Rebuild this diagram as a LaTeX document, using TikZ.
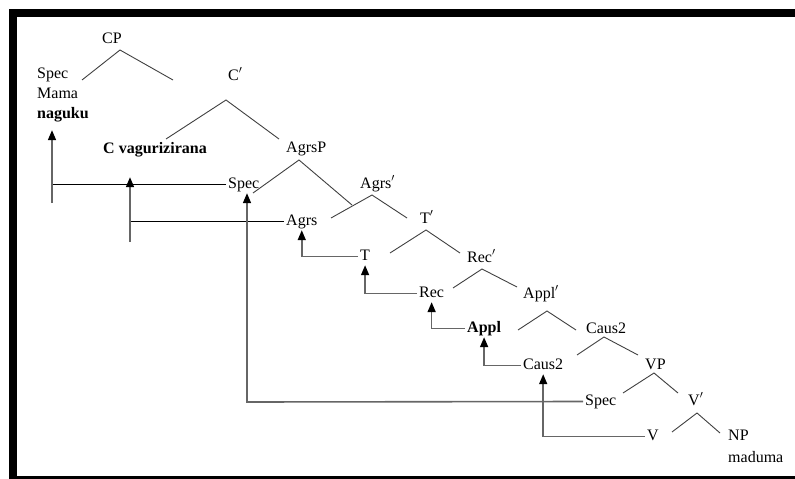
\documentclass[tikz,border=0pt]{standalone}
\usepackage{fontspec}
\setmainfont{Liberation Serif}
\usepackage{tikz}
\usetikzlibrary{arrows.meta,
                calc}

\begin{document}
\begin{tikzpicture}[
			x=1pt, y=-1pt,
			font=\fontsize{16}{20}\selectfont,
			lbl/.style = {anchor=base west, inner sep=2pt, text height=10pt, text depth=3pt},
			branch/.style = {draw=black!75, line width=0.9pt},
			link/.style = {draw=black, line width=0.9pt},
			mv/.style = {draw=black!60, line width=1.6pt,
				-{Triangle[length=10pt, width=8pt, color=black]}},
			]
			\useasboundingbox (0,0) rectangle (795,479);
			% frame
			\fill (9,9) rectangle (795,17);
			\fill (9,9) rectangle (17,479);
			\fill (9,476) rectangle (795,479);
			% labels
			\node[lbl] (CP) at (100,43) {CP};
			\node[lbl] (SpecA) at (35,78) {Spec};
			\node[lbl] (Mama) at (35,98) {Mama};
			\node[lbl] (naguku) at (35,118) {\textbf{naguku}};
			\node[lbl] (Cbar) at (226,80) {C$'$};
			\node[lbl] (Cvag) at (101,153) {\textbf{C vagurizirana}};
			\node[lbl] (AgrsP) at (284,152) {AgrsP};
			\node[lbl] (SpecB) at (226,188) {Spec};
			\node[lbl] (Agrsbar) at (358,188) {Agrs$'$};
			\node[lbl] (Agrs) at (284,225) {Agrs};
			\node[lbl] (Tbar) at (418,223) {T$'$};
			\node[lbl] (T) at (358,260) {T};
			\node[lbl] (Recbar) at (465,262) {Rec$'$};
			\node[lbl] (Rec) at (417,297) {Rec};
			\node[lbl] (Applbar) at (521,298) {Appl$'$};
			\node[lbl] (Appl) at (465,332) {\textbf{Appl}};
			\node[lbl] (Causbar) at (584,333) {Caus2};
			\node[lbl] (Caus) at (521,369) {Caus2};
			\node[lbl] (VP) at (643,369) {VP};
			\node[lbl] (SpecC) at (583,405) {Spec};
			\node[lbl] (Vbar) at (686,405) {V$'$};
			\node[lbl] (V) at (645,440) {V};
			\node[lbl] (NP) at (726,440) {NP};
			\node[lbl] (maduma) at (726,462) {maduma};
			% branches: apex / left end / right end
			\foreach \ax/\ay/\lx/\ly/\rx/\ry in {
				120/50/82/80/173/80,
				226/100/166/139/279/139,
				299/160/253/193/352/205,
				372/195/331/218/407/218,
				426/230/390/253/460/253,
				482/269/453/288/517/287,
				547/311/518/330/576/330,
				604/337/577/355/638/355,
				654/373/623/393/678/393,
				697/413/672/432/720/433}
				\draw[branch] (\lx,\ly) -- (\ax,\ay) -- (\rx,\ry);
			% movement
			\coordinate (footA) at (52,203);
			\coordinate (footB) at (130,242);
			\coordinate (footC) at (247,402);
			\draw[link] (SpecB.west) -- (SpecB.west -| footA);
			\draw[mv, shorten >=7pt] (footA) -- (footA |- naguku.south);
			\draw[link] (Agrs.west) -- (Agrs.west -| footB);
			\draw[mv, shorten >=19pt] (footB) -- (footB |- Cvag.south);
			\draw[mv] (SpecC.west) -- (footC) -- (footC |- SpecB.south);
			\draw[mv] (T.west) -| (Agrs.south);
			\draw[mv] (Rec.west) -| (T.south);
			\draw[mv] (Appl.west) -| (Rec.south);
			\draw[mv] (Caus.west) -| (Appl.south);
			\draw[mv] (V.west) -| (Caus.south);
		\end{tikzpicture}
\end{document}
